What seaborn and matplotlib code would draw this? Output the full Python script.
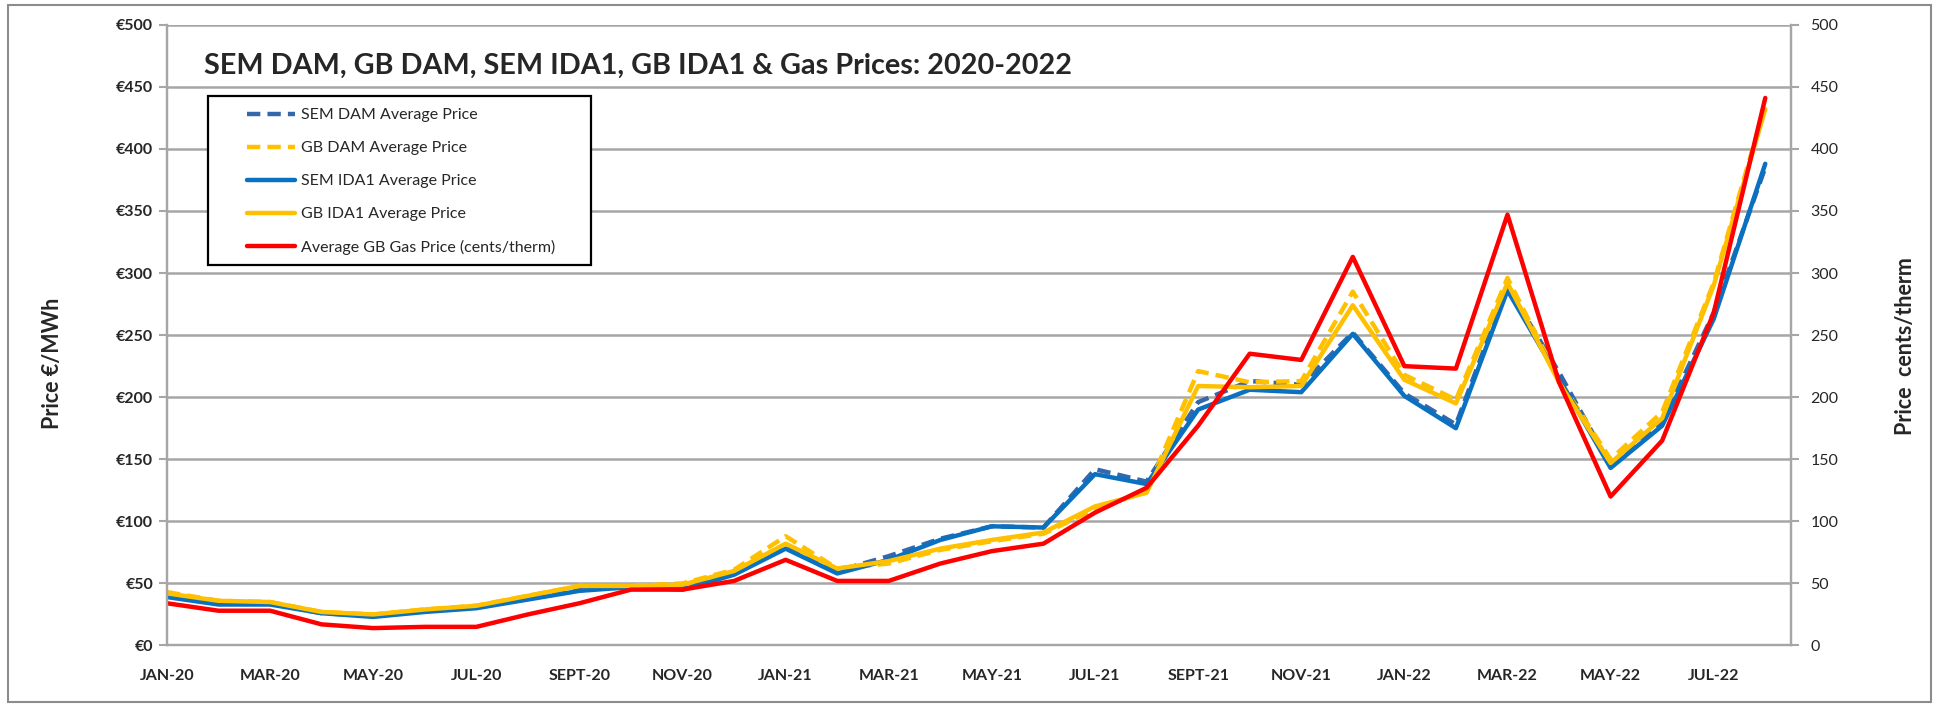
import pandas as pd
import matplotlib
matplotlib.use('Agg')
import matplotlib.pyplot as plt
import seaborn as sns
from matplotlib.patches import Rectangle

# --- Data (monthly averages) ---
MONTHS = ['JAN-20', 'FEB-20', 'MAR-20', 'APR-20', 'MAY-20', 'JUN-20', 'JUL-20', 'AUG-20',
          'SEPT-20', 'OCT-20', 'NOV-20', 'DEC-20',
          'JAN-21', 'FEB-21', 'MAR-21', 'APR-21', 'MAY-21', 'JUN-21', 'JUL-21', 'AUG-21',
          'SEPT-21', 'OCT-21', 'NOV-21', 'DEC-21',
          'JAN-22', 'FEB-22', 'MAR-22', 'APR-22', 'MAY-22', 'JUN-22', 'JUL-22', 'AUG-22']

SEM_DAM = [40, 34, 34, 26, 24, 28, 31, 38, 45, 47, 46, 58,
           80, 60, 72, 86, 96, 95, 142, 132, 196, 213, 210, 252,
           203, 178, 289, 220, 145, 180, 268, 385]
GB_DAM = [43, 36, 35, 27, 25, 29, 32, 40, 48, 48, 50, 61,
          88, 62, 66, 77, 84, 90, 110, 124, 221, 212, 213, 285,
          218, 198, 296, 214, 150, 188, 292, 435]
SEM_IDA1 = [39, 33, 33, 26, 23, 27, 30, 37, 44, 47, 45, 57,
            78, 58, 69, 85, 96, 95, 138, 130, 190, 206, 204, 251,
            201, 175, 286, 215, 143, 177, 263, 388]
GB_IDA1 = [42, 36, 35, 27, 25, 29, 32, 40, 48, 48, 49, 60,
           82, 62, 68, 78, 85, 91, 112, 123, 209, 208, 209, 274,
           214, 195, 292, 212, 147, 183, 290, 432]
GAS = [34, 28, 28, 17, 14, 15, 15, 25, 34, 45, 45, 52,
       69, 52, 52, 66, 76, 82, 107, 127, 177, 235, 230, 313,
       225, 223, 347, 212, 120, 165, 268, 441]

LEFT_TICKS = [0, 50, 100, 150, 200, 250, 300, 350, 400, 450, 500]

TITLE = 'SEM DAM, GB DAM, SEM IDA1, GB IDA1 & Gas Prices: 2020-2022'

df = pd.DataFrame({
    'idx': range(len(MONTHS)),
    'month': MONTHS,
    'SEM DAM Average Price': SEM_DAM,
    'GB DAM Average Price': GB_DAM,
    'SEM IDA1 Average Price': SEM_IDA1,
    'GB IDA1 Average Price': GB_IDA1,
    'Average GB Gas Price (cents/therm)': GAS,
})

BLUE_DASH = '#3567AC'
BLUE = '#0A70C0'
YELLOW = '#FFC000'
RED = '#FF0000'
GRID = '#A6A6A6'

sns.set_style('white')
plt.rcParams['font.family'] = ['Lato', 'DejaVu Sans']

fig = plt.figure(figsize=(19.39, 7.08), dpi=100)
ax = fig.add_axes([0.0861, 0.0883, 0.8376, 0.8768])
ax2 = ax.twinx()

LW = 3.2
sns.lineplot(data=df, x='idx', y='SEM DAM Average Price', ax=ax, color=BLUE_DASH,
             linewidth=LW, linestyle=(0, (3, 1.6)), label='SEM DAM Average Price', legend=False)
sns.lineplot(data=df, x='idx', y='GB DAM Average Price', ax=ax, color=YELLOW,
             linewidth=LW, linestyle=(0, (3, 1.6)), label='GB DAM Average Price', legend=False)
sns.lineplot(data=df, x='idx', y='SEM IDA1 Average Price', ax=ax, color=BLUE,
             linewidth=LW, label='SEM IDA1 Average Price', legend=False)
sns.lineplot(data=df, x='idx', y='GB IDA1 Average Price', ax=ax, color=YELLOW,
             linewidth=LW, label='GB IDA1 Average Price', legend=False)
sns.lineplot(data=df, x='idx', y='Average GB Gas Price (cents/therm)', ax=ax2, color=RED,
             linewidth=LW, label='Average GB Gas Price (cents/therm)', legend=False)

for a in (ax, ax2):
    a.set_xlim(0, len(MONTHS) - 0.5)
    a.set_ylim(0, 500)
    for s in a.spines.values():
        s.set_color(GRID)
        s.set_linewidth(1.6)
    a.spines['top'].set_visible(False)

ax.set_yticks(LEFT_TICKS)
ax.set_yticklabels([f'€{v}' for v in LEFT_TICKS], fontweight='bold', fontsize=11.5)
ax2.set_yticks(LEFT_TICKS)
ax2.set_yticklabels([str(v) for v in LEFT_TICKS], fontsize=11.5)
ax.yaxis.grid(True, color=GRID, linewidth=1.8)
ax.set_axisbelow(True)

ax.set_xticks(range(len(MONTHS)))
ax.set_xticklabels([m if i % 2 == 0 else '' for i, m in enumerate(MONTHS)],
                   fontweight='bold', fontsize=11.5)
ax.tick_params(axis='x', direction='out', length=7, width=1.5, color=GRID, pad=10)
ax.tick_params(axis='y', direction='out', length=6, width=1.5, color=GRID, pad=4)
ax2.tick_params(axis='y', direction='out', length=6, width=1.5, color=GRID, pad=8)

ax.set_xlabel('')
ax.set_ylabel('Price €/MWh', fontweight='bold', fontsize=15.5)
ax.yaxis.set_label_coords(-0.064, 0.455)
ax2.set_ylabel('Price  cents/therm', fontweight='bold', fontsize=15.5, rotation=90)
ax2.yaxis.set_label_coords(1.064, 0.482)

fig.text(0.105, 0.9075, TITLE, fontsize=20.7, fontweight='bold', va='center', ha='left')

# legend with a hand-placed frame
handles = ax.get_lines() + ax2.get_lines()
fig.patches.append(Rectangle((0.1073, 0.6257), 0.1975, 0.2387, transform=fig.transFigure,
                             facecolor='white', edgecolor='black', linewidth=1.6, zorder=5))
leg = fig.legend(handles=handles, labels=[h.get_label() for h in handles],
                 loc='upper left', bbox_to_anchor=(0.1235, 0.8583), frameon=False,
                 fontsize=11.5, borderpad=0, labelspacing=1.17, handlelength=3.0,
                 handletextpad=0.35)
leg.set_zorder(6)

# outer chart border
fig.patches.append(Rectangle((0.004, 0.008), 0.992, 0.985, transform=fig.transFigure,
                             facecolor='none', edgecolor='#8C8C8C', linewidth=1.5))

plt.savefig('out.png', dpi=100)
print('saved out.png')
